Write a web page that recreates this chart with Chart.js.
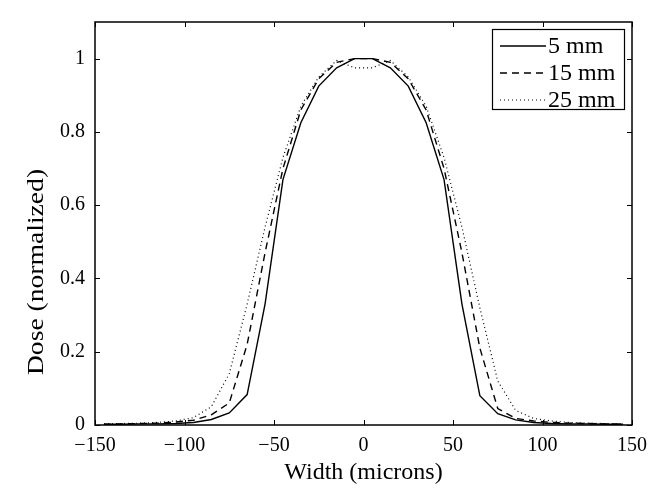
<!DOCTYPE html>
<html><head><meta charset="utf-8">
<script src="https://cdn.jsdelivr.net/npm/chart.js@4/dist/chart.umd.min.js"></script>
<style>html,body{margin:0;padding:0;background:#fff}#wrap{width:658px;height:490px}</style>
</head><body><div id="wrap"><canvas id="c" width="658" height="490"></canvas></div>
<script>
// ---- data ----
const widths = [-145,-135,-125,-115,-105,-95,-85,-75,-65,-55,-45,-35,-25,-15,-5,
                5,15,25,35,45,55,65,75,85,95,105,115,125,135,145];
const dose5mm = [0.002,0.002,0.003,0.003,0.004,0.007,0.015,0.033,0.083,0.33,0.67,0.825,0.925,0.975,1.0,
                 1.0,0.975,0.925,0.825,0.67,0.33,0.08,0.031,0.014,0.007,0.004,0.003,0.003,0.002,0.002];
const dose15mm = [0.002,0.003,0.004,0.005,0.008,0.013,0.028,0.06,0.22,0.47,0.70,0.86,0.945,0.99,1.0,
                  1.0,0.99,0.945,0.86,0.70,0.47,0.21,0.045,0.018,0.011,0.007,0.005,0.004,0.003,0.002];
const dose25mm = [0.003,0.004,0.005,0.007,0.011,0.02,0.05,0.14,0.33,0.54,0.73,0.87,0.95,0.995,0.975,
                  0.975,0.995,0.95,0.87,0.73,0.54,0.32,0.12,0.04,0.018,0.011,0.007,0.005,0.004,0.003];
const seriesLabels = ['5 mm','15 mm','25 mm'];
const xTicks = [-150,-100,-50,0,50,100,150];
const yTicks = [0,0.2,0.4,0.6,0.8,1];
const xTitle = 'Width (microns)';
const yTitle = 'Dose (normalized)';

const FONT = '"Liberation Serif", "Times New Roman", serif';
const styles = [
  {borderDash: [], borderWidth: 1.4},
  {borderDash: [7,5], borderWidth: 1.4},
  {borderDash: [1,3], borderWidth: 1.2}
];
const series = [dose5mm, dose15mm, dose25mm];

const datasets = series.map((vals, i) => ({
  label: seriesLabels[i],
  data: widths.map((w, j) => ({x: w, y: vals[j]})),
  borderColor: '#000',
  borderWidth: styles[i].borderWidth,
  borderDash: styles[i].borderDash,
  pointRadius: 0,
  tension: 0,
  fill: false
}));

const framePlugin = {
  id: 'frame',
  afterDatasetsDraw(chart) {
    const {ctx, chartArea: a, scales: {x, y}} = chart;
    ctx.save();
    ctx.setLineDash([]);
    ctx.strokeStyle = '#000';
    ctx.lineWidth = 1.5;
    ctx.strokeRect(a.left, a.top, a.right - a.left, a.bottom - a.top);
    ctx.lineWidth = 1;
    const L = 5;
    ctx.beginPath();
    x.ticks.forEach(t => {
      const px = Math.round(x.getPixelForValue(t.value)) + 0.5;
      ctx.moveTo(px, a.bottom); ctx.lineTo(px, a.bottom - L);
      ctx.moveTo(px, a.top); ctx.lineTo(px, a.top + L);
    });
    y.ticks.forEach(t => {
      const py = Math.round(y.getPixelForValue(t.value)) + 0.5;
      ctx.moveTo(a.left, py); ctx.lineTo(a.left + L, py);
      ctx.moveTo(a.right, py); ctx.lineTo(a.right - L, py);
    });
    ctx.stroke();

    // legend
    const bx = a.right - 140, by = a.top + 7, bw = 132, bh = 80;
    ctx.fillStyle = '#fff';
    ctx.fillRect(bx, by, bw, bh);
    ctx.lineWidth = 1.2;
    ctx.strokeRect(bx + 0.5, by + 0.5, bw, bh);
    ctx.font = '24px ' + FONT;
    ctx.textBaseline = 'middle';
    ctx.textAlign = 'left';
    chart.data.datasets.forEach((ds, i) => {
      const ry = by + 17 + i * 27;
      ctx.beginPath();
      ctx.setLineDash(ds.borderDash);
      ctx.lineWidth = ds.borderWidth;
      ctx.moveTo(bx + 8, ry); ctx.lineTo(bx + 54, ry);
      ctx.stroke();
      ctx.setLineDash([]);
      ctx.fillStyle = '#000';
      ctx.fillText(ds.label, bx + 56, ry + 1);
    });

    // y title (stretched along its length like the reference)
    ctx.save();
    ctx.translate(37, 272);
    ctx.rotate(-Math.PI / 2);
    ctx.scale(1.15, 1);
    ctx.textAlign = 'center';
    ctx.textBaseline = 'middle';
    ctx.font = '24px ' + FONT;
    ctx.fillStyle = '#000';
    ctx.fillText(yTitle, 0, 0);
    ctx.restore();
    ctx.restore();
  }
};

new Chart(document.getElementById('c'), {
  type: 'line',
  data: {datasets},
  plugins: [framePlugin],
  options: {
    responsive: false,
    animation: false,
    events: [],
    layout: {padding: {left: 0, top: 12, right: 26, bottom: 0}},
    plugins: {legend: {display: false}, tooltip: {enabled: false}},
    scales: {
      x: {
        type: 'linear', min: -150, max: 150,
        afterBuildTicks: s => { s.ticks = xTicks.map(v => ({value: v})); },
        afterFit: s => { s.height = 65; },
        grid: {display: false, drawTicks: false},
        border: {display: false},
        ticks: {
          color: '#000', padding: 9, maxRotation: 0, autoSkip: false,
          font: {family: FONT, size: 20},
          callback: v => String(v).replace('-', '\u2212')
        },
        title: {display: true, text: xTitle, color: '#000', font: {family: FONT, size: 24}, padding: {top: 0, bottom: 3}}
      },
      y: {
        type: 'linear', min: 0, max: 1.1,
        afterBuildTicks: s => { s.ticks = yTicks.map(v => ({value: v})); },
        afterFit: s => { s.width = 95; },
        grid: {display: false, drawTicks: false},
        border: {display: false},
        ticks: {
          color: '#000', padding: 10, autoSkip: false,
          font: {family: FONT, size: 20},
          callback: v => String(v)
        }
      }
    }
  }
});
</script></body></html>
